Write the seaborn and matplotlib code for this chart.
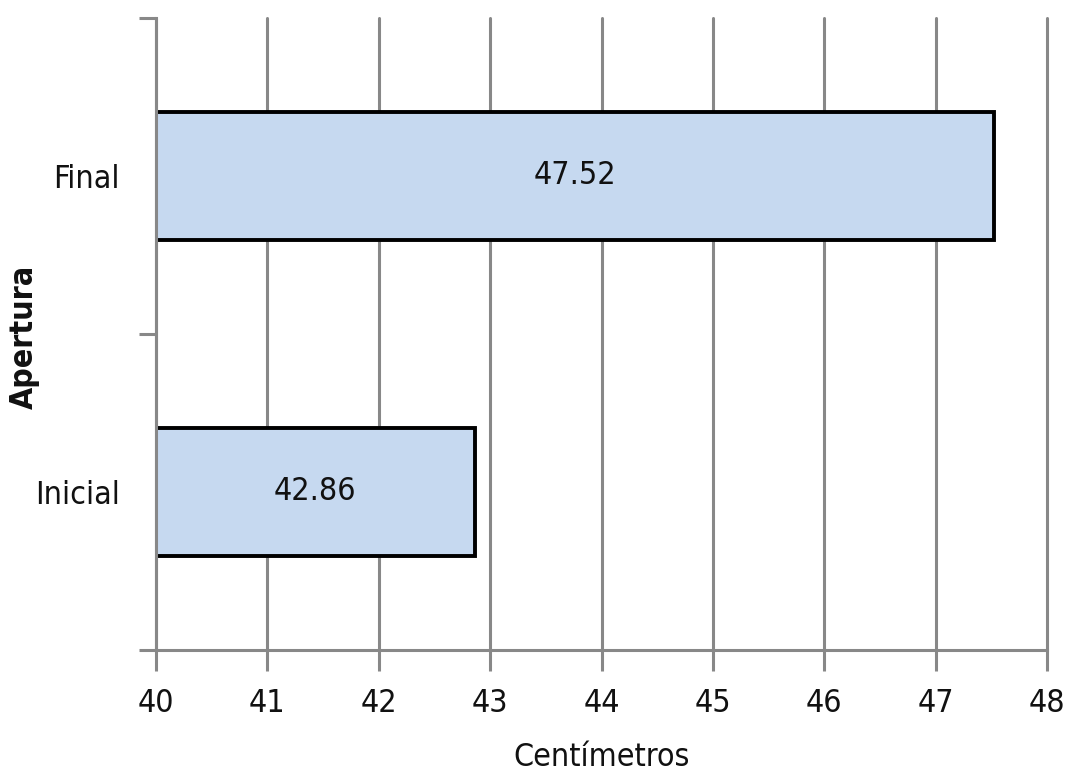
import matplotlib
matplotlib.use("Agg")
import matplotlib.pyplot as plt
import seaborn as sns
import pandas as pd

categories = ["Final", "Inicial"]
values = [47.52, 42.86]
x_ticks = [40, 41, 42, 43, 44, 45, 46, 47, 48]

sns.set_theme(style="white")
plt.rcParams["font.family"] = ["DejaVu Sans"]
plt.rcParams["font.stretch"] = "condensed"

df = pd.DataFrame({"Apertura": categories, "cm": values})

fig = plt.figure(figsize=(10.68, 7.74), dpi=100)
ax_w, ax_h = (1047 - 156), (650 - 18)
ax = fig.add_axes([156 / 1068, 1 - 650 / 774, ax_w / 1068, ax_h / 774])

grid_c = "#888888"
txt_c = "#111111"
ax.set_axisbelow(True)
ax.grid(axis="x", color=grid_c, linewidth=2.2)
ax.grid(axis="y", visible=False)

sns.barplot(data=df, x="cm", y="Apertura", order=categories, orient="h",
            color="#C6D9F0", saturation=1, width=0.405,
            edgecolor="black", linewidth=2.8, ax=ax)

ax.set_xlim(40, 48)
ax.set_ylim(1.5, -0.5)
ax.set_xticks(x_ticks)
ax.set_xticklabels([str(t) for t in x_ticks])
for gl in ax.get_xgridlines():
    gl.set_clip_on(False)

# category boundaries as major ticks, labels on minor ticks
ax.set_yticks([-0.5, 0.5, 1.5])
ax.set_yticklabels([])
ax.set_yticks([0, 1], minor=True)
ax.set_yticklabels(categories, minor=True)
ax.tick_params(axis="y", which="minor", length=0, pad=26, labelsize=23, labelcolor=txt_c)
ax.tick_params(axis="y", which="major", length=12, width=2.2, color=grid_c, direction="out", left=True)
ax.tick_params(axis="x", length=15, width=2.2, color=grid_c, direction="out", bottom=True,
               pad=12, labelsize=23, labelcolor=txt_c)

for s in ["top", "right"]:
    ax.spines[s].set_visible(False)
for s in ["left", "bottom"]:
    ax.spines[s].set_color(grid_c)
    ax.spines[s].set_linewidth(2.2)

for i, v in enumerate(values):
    ax.text((40 + v) / 2, i, f"{v:.2f}", ha="center", va="center",
            fontsize=23, color=txt_c)

ax.set_xlabel("Centímetros", fontsize=23, color=txt_c)
ax.xaxis.label.set_va("center")
ax.xaxis.set_label_coords(0.5, (650 - 757) / ax_h)

ax.set_ylabel("Apertura", fontsize=23, fontweight="bold", color=txt_c)
ax.yaxis.label.set_va("center")
ax.yaxis.set_label_coords((24 - 156) / ax_w, (650 - 337) / ax_h)

fig.savefig("out.png", dpi=100)
